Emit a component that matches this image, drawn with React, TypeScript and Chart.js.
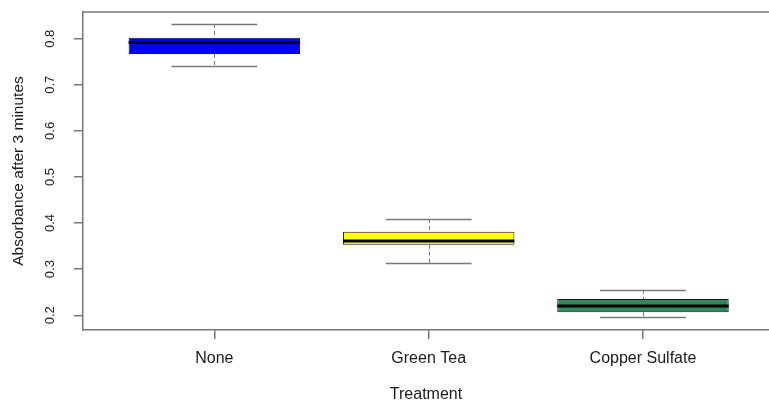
import React, { useEffect, useRef } from 'react';
import { Chart, registerables } from 'chart.js';

Chart.register(...registerables);

const categories = ['None', 'Green Tea', 'Copper Sulfate'];
const positions = [1, 2, 3];
const whiskerLow = [0.741, 0.313, 0.196];
const q1 = [0.767, 0.353, 0.2065];
const median = [0.792, 0.361, 0.22];
const q3 = [0.802, 0.381, 0.235];
const whiskerHigh = [0.832, 0.409, 0.255];
const fillColors = ['#0000FF', '#FFFF00', '#2E8B57'];
const yTicks = [0.2, 0.3, 0.4, 0.5, 0.6, 0.7, 0.8];

const AXIS_COLOR = '#777777';
const TEXT_COLOR = '#1a1a1a';
const FONT = 'Liberation Sans, Arial, sans-serif';

const boxPlugin = {
  id: 'boxExtras',
  beforeDatasetsDraw(chart: any) {
    const { ctx, scales } = chart;
    const xs = scales.x;
    const ys = scales.y;
    ctx.save();
    ctx.strokeStyle = AXIS_COLOR;
    ctx.lineWidth = 1;
    positions.forEach((p, i) => {
      const cx = Math.round(xs.getPixelForValue(p)) + 0.5;
      ctx.setLineDash([4, 3]);
      ctx.beginPath();
      ctx.moveTo(cx, ys.getPixelForValue(whiskerHigh[i]));
      ctx.lineTo(cx, ys.getPixelForValue(q3[i]));
      ctx.moveTo(cx, ys.getPixelForValue(q1[i]));
      ctx.lineTo(cx, ys.getPixelForValue(whiskerLow[i]));
      ctx.stroke();
      ctx.setLineDash([]);
      ctx.lineWidth = 1.5;
      const l = xs.getPixelForValue(p - 0.2);
      const r = xs.getPixelForValue(p + 0.2);
      [whiskerHigh[i], whiskerLow[i]].forEach((v) => {
        const y = Math.round(ys.getPixelForValue(v)) + 0.5;
        ctx.beginPath();
        ctx.moveTo(l, y);
        ctx.lineTo(r, y);
        ctx.stroke();
      });
      ctx.lineWidth = 1;
    });
    ctx.restore();
  },
  afterDatasetsDraw(chart: any) {
    const { ctx, scales } = chart;
    const xs = scales.x;
    const ys = scales.y;
    ctx.save();
    ctx.strokeStyle = '#000000';
    ctx.lineWidth = 3;
    positions.forEach((p, i) => {
      const y = ys.getPixelForValue(median[i]);
      ctx.beginPath();
      ctx.moveTo(xs.getPixelForValue(p - 0.4), y);
      ctx.lineTo(xs.getPixelForValue(p + 0.4), y);
      ctx.stroke();
    });
    ctx.restore();
  },
  afterDraw(chart: any) {
    const { ctx, chartArea } = chart;
    ctx.save();
    ctx.strokeStyle = AXIS_COLOR;
    ctx.lineWidth = 1.5;
    ctx.beginPath();
    ctx.moveTo(chartArea.left, chartArea.top);
    ctx.lineTo(chart.width, chartArea.top);
    ctx.stroke();
    ctx.restore();
  },
};

export default function App() {
  const ref = useRef<HTMLCanvasElement>(null);

  useEffect(() => {
    if (!ref.current) return;
    const chart = new Chart(ref.current, {
      type: 'bar',
      data: {
        datasets: [
          {
            data: positions.map((x, i) => ({ x, y: [q1[i], q3[i]] })) as any,
            backgroundColor: fillColors,
            borderColor: '#1a1a1a',
            borderWidth: 1,
            borderSkipped: false,
            categoryPercentage: 1,
            barPercentage: 0.8,
          },
        ],
      },
      options: {
        animation: false,
        responsive: false,
        layout: { padding: { left: 0, top: 12, right: 0, bottom: 0 } },
        plugins: { legend: { display: false }, tooltip: { enabled: false } },
        scales: {
          x: {
            type: 'linear',
            min: 0.387,
            max: 3.588,
            offset: false,
            afterBuildTicks: (s: any) => {
              s.ticks = positions.map((v) => ({ value: v }));
            },
            afterFit: (s: any) => {
              s.height = 75;
              s.paddingLeft = 0;
              s.paddingRight = 0;
            },
            ticks: {
              callback: (v: any) => categories[positions.indexOf(Number(v))] ?? '',
              font: { family: FONT, size: 16 },
              color: TEXT_COLOR,
              padding: 10,
              maxRotation: 0,
              autoSkip: false,
            },
            grid: { display: true, offset: false, drawOnChartArea: false, drawTicks: true, tickLength: 9, color: AXIS_COLOR, lineWidth: 1.5 },
            border: { display: true, color: AXIS_COLOR, width: 1.5 },
            title: {
              display: true,
              text: 'Treatment',
              font: { family: FONT, size: 16 },
              color: TEXT_COLOR,
              padding: { top: 0, bottom: 1 },
            },
          },
          y: {
            type: 'linear',
            min: 0.168,
            max: 0.858,
            afterBuildTicks: (s: any) => {
              s.ticks = yTicks.map((v) => ({ value: v }));
            },
            afterFit: (s: any) => {
              s.width = 83;
              s.paddingTop = 0;
              s.paddingBottom = 0;
            },
            ticks: {
              callback: (v: any) => Number(v).toFixed(1),
              font: { family: FONT, size: 13 },
              color: TEXT_COLOR,
              minRotation: 90,
              maxRotation: 90,
              crossAlign: 'center',
              padding: 15,
            },
            grid: { display: true, drawOnChartArea: false, drawTicks: true, tickLength: 9, color: AXIS_COLOR, lineWidth: 1.5 },
            border: { display: true, color: AXIS_COLOR, width: 1.5 },
            title: {
              display: true,
              text: 'Absorbance after 3 minutes',
              font: { family: FONT, size: 15.5 },
              color: TEXT_COLOR,
              padding: { top: 9, bottom: 0 },
            },
          },
        },
      },
      plugins: [boxPlugin],
    });
    return () => chart.destroy();
  }, []);

  return (
    <div style={{ position: 'absolute', left: 0, top: 0, width: 769, height: 405, background: '#fff' }}>
      <canvas ref={ref} width={769} height={405} />
    </div>
  );
}
